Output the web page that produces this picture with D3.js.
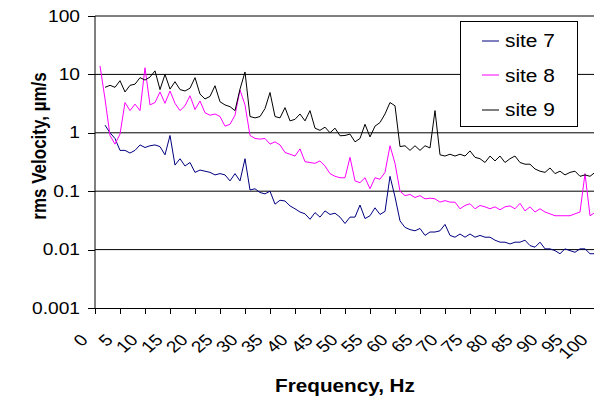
<!DOCTYPE html>
<html>
<head>
<meta charset="utf-8">
<script src="https://cdn.jsdelivr.net/npm/d3@7"></script>
<style>
  body { margin: 0; background: #fff; }
  svg { display: block; font-family: Arial, "Liberation Sans", sans-serif; }
</style>
</head>
<body>
<svg id="chart" width="594" height="400"></svg>
<script>
// frequency grid, Hz
var freq = [1,2,3,4,5,6,7,8,9,10,11,12,13,14,15,16,17,18,19,20,
  21,22,23,24,25,26,27,28,29,30,31,32,33,34,35,36,37,38,39,40,
  41,42,43,44,45,46,47,48,49,50,51,52,53,54,55,56,57,58,59,60,
  61,62,63,64,65,66,67,68,69,70,71,72,73,74,75,76,77,78,79,80,
  81,82,83,84,85,86,87,88,89,90,91,92,93,94,95,96,97,98,99,100];

// rms velocity, um/s
var site7 = [null,1.35,1.0,0.8,0.5,0.5,0.45,0.5,0.62,0.56,
  0.6,0.62,0.58,0.42,0.9,0.28,0.36,0.27,0.31,0.21,
  0.23,0.22,0.21,0.19,0.2,0.19,0.15,0.2,0.15,0.36,
  0.105,0.11,0.095,0.09,0.1,0.06,0.07,0.068,0.056,0.05,
  0.044,0.041,0.033,0.043,0.036,0.046,0.04,0.042,0.036,0.028,
  0.036,0.036,0.058,0.034,0.038,0.052,0.04,0.045,0.18,0.08,
  0.031,0.024,0.022,0.021,0.023,0.0175,0.02,0.02,0.021,0.027,
  0.0175,0.0163,0.0185,0.0163,0.0185,0.0163,0.0175,0.0163,0.0163,0.0145,
  0.0134,0.0134,0.0125,0.0134,0.0134,0.0145,0.0117,0.011,0.0134,0.0103,
  0.0103,0.0096,0.0085,0.0103,0.0096,0.009,0.0103,0.0103,0.0085,0.0085];

var site8 = [14,3.8,0.9,0.64,0.95,3.3,2.4,3.1,2.4,13,
  3.0,3.3,5.0,3.2,5.2,3.2,2.4,2.9,4.3,2.5,
  3.5,2.2,2.0,2.1,1.9,1.3,1.4,2.0,5.4,3.0,
  0.9,0.8,0.78,0.8,0.64,0.7,0.62,0.46,0.43,0.4,
  0.53,0.32,0.31,0.3,0.33,0.27,0.2,0.18,0.17,0.17,
  0.38,0.15,0.14,0.17,0.11,0.17,0.16,0.21,0.6,0.3,
  0.1,0.084,0.088,0.078,0.084,0.074,0.076,0.074,0.065,0.069,
  0.065,0.065,0.05,0.057,0.061,0.05,0.057,0.054,0.05,0.054,
  0.048,0.054,0.056,0.05,0.062,0.046,0.054,0.044,0.05,0.044,
  0.041,0.038,0.038,0.038,0.038,0.041,0.044,0.2,0.038,0.043];

var site9 = [null,6.0,6.5,6.0,7.8,5.0,6.5,6.8,8.8,8.0,
  9.0,11.5,5.5,10.0,5.6,7.5,5.5,5.2,5.8,8.8,
  4.6,3.8,4.2,6.4,3.4,3.0,2.8,2.4,5.6,11,
  1.9,1.8,1.9,2.6,4.9,1.9,1.8,2.7,1.6,1.7,
  2.1,1.6,2.4,1.2,1.1,1.25,1.0,1.2,0.89,0.9,
  0.95,0.7,0.8,1.4,0.85,1.3,1.5,2.1,3.3,2.9,
  0.58,0.6,0.5,0.6,0.5,0.6,0.55,2.4,0.42,0.4,
  0.43,0.4,0.43,0.4,0.49,0.38,0.36,0.31,0.4,0.33,
  0.4,0.31,0.36,0.4,0.31,0.29,0.29,0.24,0.22,0.21,
  0.25,0.2,0.22,0.19,0.21,0.22,0.18,0.19,0.18,0.21];

var seriesNames = ["site 7", "site 8", "site 9"];
var seriesColors = ["#000080", "#ff00ff", "#000000"];
var xTicks = [0,5,10,15,20,25,30,35,40,45,50,55,60,65,70,75,80,85,90,95,100];
var yTicks = [100, 10, 1, 0.1, 0.01, 0.001];
var yTickLabels = ["100", "10", "1", "0.1", "0.01", "0.001"];

var svg = d3.select("#chart");

var x = d3.scaleLinear().domain([0, 100]).range([95, 595]);
var y = d3.scaleLog().domain([0.001, 100]).range([308, 16]);

// stretched text, the original is a bit wide
function stretchText(g, tx, ty, str, size, sx, extra) {
  return g.append("text")
    .attr("transform", "translate(" + tx + "," + ty + ") scale(" + sx + ",1)" + (extra || ""))
    .attr("font-size", size)
    .text(str);
}

// gridlines
svg.append("g").selectAll("line")
  .data(yTicks.slice(0, 5))
  .enter().append("line")
  .attr("x1", 95).attr("x2", 594)
  .attr("y1", d => y(d)).attr("y2", d => y(d))
  .attr("stroke", "#000").attr("stroke-width", 1);

// axes
var axG = svg.append("g");
axG.append("line").attr("x1", 95).attr("x2", 95).attr("y1", 16).attr("y2", 308)
  .attr("stroke", "#000");
axG.append("line").attr("x1", 95).attr("x2", 594).attr("y1", 308.5).attr("y2", 308.5)
  .attr("stroke", "#000");

axG.selectAll(".yt").data(yTicks).enter().append("line")
  .attr("x1", 88).attr("x2", 95)
  .attr("y1", d => Math.round(y(d)) + 0.5).attr("y2", d => Math.round(y(d)) + 0.5)
  .attr("stroke", "#000");

axG.selectAll(".xt").data(xTicks).enter().append("line")
  .attr("x1", d => Math.round(x(d)) + 0.5).attr("x2", d => Math.round(x(d)) + 0.5)
  .attr("y1", 308).attr("y2", 314)
  .attr("stroke", "#000");

yTicks.forEach(function (d, i) {
  stretchText(axG, 80, y(d) + 5.5, yTickLabels[i], 16, 1.2)
    .attr("text-anchor", "end");
});

xTicks.forEach(function (d) {
  stretchText(axG, x(d) - 6, 341, String(d), 16, 1.2, " rotate(-45)")
    .attr("text-anchor", "end");
});

// axis titles
stretchText(svg, 345, 392, "Frequency, Hz", 18, 1.15)
  .attr("font-weight", "bold").attr("text-anchor", "middle");
stretchText(svg, 46, 146, "rms Velocity, µm/s", 17, 1.17, " rotate(-90)")
  .attr("font-weight", "bold").attr("text-anchor", "middle");

// series
var allSeries = [site7, site8, site9];
var line = d3.line()
  .defined(d => d[1] != null)
  .x(d => x(d[0]))
  .y(d => y(d[1]));

allSeries.forEach(function (vals, i) {
  svg.append("path")
    .datum(freq.map((f, j) => [f, vals[j]]))
    .attr("fill", "none")
    .attr("stroke", seriesColors[i])
    .attr("stroke-width", 1)
    .attr("stroke-linejoin", "round")
    .attr("d", line);
});

// legend
var lg = svg.append("g");
lg.append("rect").attr("x", 460.5).attr("y", 21.5).attr("width", 117).attr("height", 105)
  .attr("fill", "#fff").attr("stroke", "#000");
seriesNames.forEach(function (name, i) {
  var ly = 40.5 + i * 34.5;
  lg.append("line").attr("x1", 482).attr("x2", 499)
    .attr("y1", Math.round(ly)).attr("y2", Math.round(ly))
    .attr("stroke", seriesColors[i]);
  stretchText(lg, 505, ly + 6.5, name, 18, 1.16);
});
</script>
</body>
</html>
